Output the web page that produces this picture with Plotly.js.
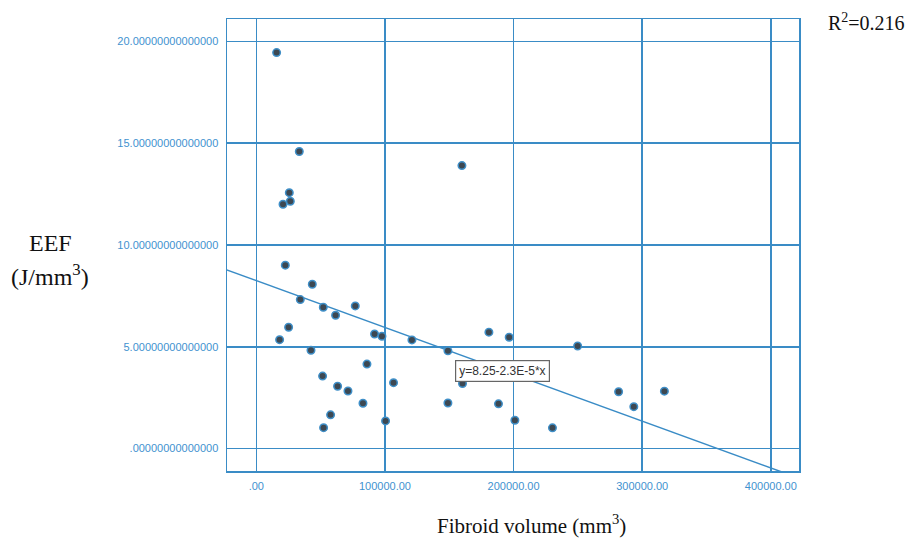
<!DOCTYPE html>
<html>
<head>
<meta charset="utf-8">
<script src="https://cdn.plot.ly/plotly-3.0.1.min.js"></script>
<style>html,body{margin:0;padding:0;background:#fff;}#chart{width:911px;height:544px;}</style>
</head>
<body>
<div id="chart"></div>
<script>
// Fibroid volume (mm^3)
const fibroidVolume = [15770, 33410, 25640, 26420, 20750, 22530, 43510, 34190, 52060, 76920,
  61620, 25100, 18100, 42500, 91920, 97670, 120980, 148950, 180810, 196580,
  249800, 86010, 51520, 63170, 71250, 82910, 106680, 57730, 52290, 100470,
  148950, 160300, 188270, 201010, 230230, 281660, 293470, 317250, 159840];
// EEF (J/mm^3)
const eef = [19.45, 14.59, 12.57, 12.15, 12.00, 9.01, 8.07, 7.32, 6.94, 7.01,
  6.55, 5.96, 5.35, 4.83, 5.63, 5.52, 5.34, 4.80, 5.72, 5.47,
  5.04, 4.15, 3.56, 3.06, 2.83, 2.23, 3.24, 1.66, 1.03, 1.36,
  2.24, 3.20, 2.20, 1.39, 1.02, 2.79, 2.06, 2.82, 13.90];
// Fit line: y = 8.25 - 2.3E-5 * x
const fitIntercept = 8.25;
const fitSlope = -2.3e-5;
const fitX = [-30000, 420000];
const fitY = fitX.map(v => fitIntercept + fitSlope * v);
const fitLabel = 'y=8.25-2.3E-5*x';
const r2Label = 'R<sup>2</sup>=0.216';

const xTickVals = [0, 100000, 200000, 300000, 400000];
const xTickText = ['.00', '100000.00', '200000.00', '300000.00', '400000.00'];
const yTickVals = [0, 5, 10, 15, 20];
const yTickText = ['.00000000000000', '5.00000000000000', '10.00000000000000', '15.00000000000000', '20.00000000000000'];

const blue = '#3a8cc6';
const traces = [
  {x: fitX, y: fitY, mode: 'lines', line: {color: blue, width: 1.5}, hoverinfo: 'skip', showlegend: false},
  {x: fibroidVolume, y: eef, mode: 'markers', showlegend: false,
   marker: {size: 7.5, color: '#3d4852', line: {color: '#3f8fc8', width: 1.5}}}
];

const serif = 'Liberation Serif, Times New Roman, serif';
const layout = {
  width: 911, height: 544,
  margin: {l: 227, r: 112, t: 19, b: 73},
  paper_bgcolor: '#fff', plot_bgcolor: '#fff',
  showlegend: false,
  xaxis: {
    range: [-22800, 421900], tickvals: xTickVals, ticktext: xTickText,
    showgrid: true, gridcolor: blue, gridwidth: 1.5, zeroline: false,
    showline: true, linecolor: blue, linewidth: 1.5, mirror: true,
    ticks: '', ticklabelstandoff: 4,
    tickfont: {family: 'Liberation Sans, Arial, sans-serif', size: 11, color: '#3f92cf'}
  },
  yaxis: {
    range: [-1.1, 21.1], tickvals: yTickVals, ticktext: yTickText,
    showgrid: true, gridcolor: blue, gridwidth: 1.5, zeroline: false,
    showline: true, linecolor: blue, linewidth: 1.5, mirror: true,
    ticks: '', ticklabelstandoff: 5,
    tickfont: {family: 'Liberation Sans, Arial, sans-serif', size: 11, color: '#3f92cf'}
  },
  annotations: [
    {xref: 'paper', yref: 'paper', x: -0.309, y: 0.504, xanchor: 'center', yanchor: 'middle',
     text: 'EEF', showarrow: false, font: {family: serif, size: 24, color: '#111'}},
    {xref: 'paper', yref: 'paper', x: -0.309, y: 0.434, xanchor: 'center', yanchor: 'middle',
     text: '(J/mm<sup>3</sup>)', showarrow: false, font: {family: serif, size: 24, color: '#111'}},
    {xref: 'paper', yref: 'paper', x: 0.532, y: -0.119, xanchor: 'center', yanchor: 'middle',
     text: 'Fibroid volume (mm<sup>3</sup>)', showarrow: false, font: {family: serif, size: 21, color: '#111'}},
    {xref: 'paper', yref: 'paper', x: 1.047, y: 0.993, xanchor: 'left', yanchor: 'middle',
     text: r2Label, showarrow: false, font: {family: serif, size: 20, color: '#111'}},
    {xref: 'x', yref: 'y', x: 191100, y: 3.81, xanchor: 'center', yanchor: 'middle',
     text: fitLabel, showarrow: false,
     bgcolor: '#fff', bordercolor: '#666', borderwidth: 1.2, borderpad: 3,
     font: {family: 'Liberation Sans, Arial, sans-serif', size: 12, color: '#333'}}
  ]
};
Plotly.newPlot('chart', traces, layout, {staticPlot: true, displayModeBar: false});
</script>
</body>
</html>
